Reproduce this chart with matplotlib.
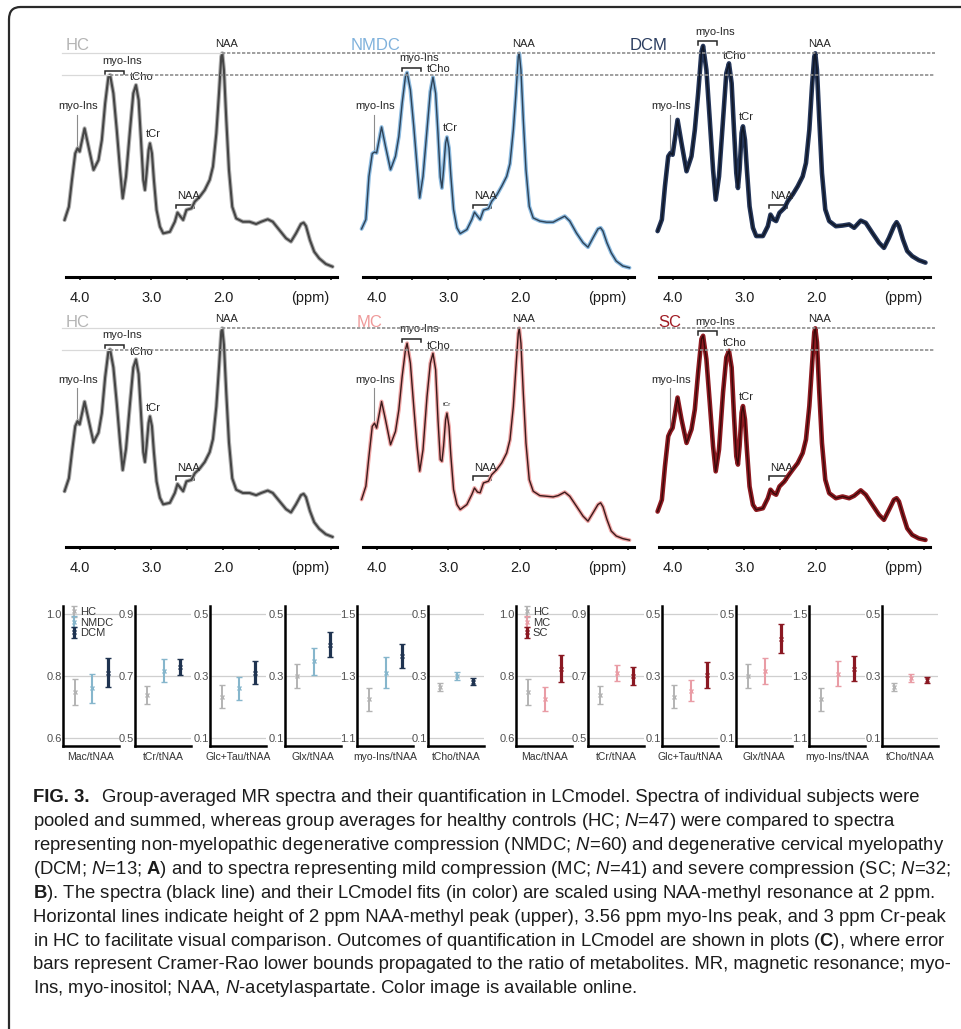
#!/usr/bin/env python3
"""
Group-averaged MR spectra (HC / NMDC / DCM and HC / MC / SC), LCmodel
metabolite ratios with CRLB error bars, and the figure caption.
"""

import numpy as np
import matplotlib
matplotlib.use("Agg")
import matplotlib.pyplot as plt
from matplotlib.lines import Line2D
from matplotlib.patches import FancyBboxPatch

W, H, DPI = 961, 1029, 100

plt.rcParams["font.family"] = ["Liberation Sans", "DejaVu Sans"]
plt.rcParams["mathtext.fontset"] = "custom"
plt.rcParams["mathtext.rm"] = "Liberation Sans"
plt.rcParams["mathtext.it"] = "Liberation Sans:italic"
plt.rcParams["mathtext.bf"] = "Liberation Sans:bold"

# ── spectra, intensity scaled to the 2 ppm NAA-methyl peak ──────────────────
PPM = [4.21, 4.15, 4.107, 4.061, 4.029, 4.0, 3.931, 3.876, 3.806, 3.737,
       3.69, 3.644, 3.598, 3.575, 3.529, 3.482, 3.436, 3.399, 3.353, 3.297,
       3.251, 3.214, 3.177, 3.144, 3.112, 3.089, 3.066, 3.038, 3.019, 2.991,
       2.964, 2.927, 2.88, 2.834, 2.741, 2.672, 2.635, 2.593, 2.556, 2.51,
       2.44, 2.394, 2.325, 2.255, 2.186, 2.14, 2.093, 2.056, 2.024, 2.01,
       1.987, 1.954, 1.917, 1.871, 1.816, 1.723, 1.63, 1.538, 1.468, 1.376,
       1.306, 1.214, 1.121, 1.052, 0.982, 0.913, 0.876, 0.843, 0.788, 0.728,
       0.658, 0.566, 0.473]

HC = [0.254, 0.313, 0.433, 0.552, 0.575, 0.560, 0.664, 0.582, 0.478, 0.522,
      0.612, 0.776, 0.896, 0.903, 0.821, 0.657, 0.478, 0.351, 0.448, 0.657,
      0.821, 0.858, 0.791, 0.612, 0.433, 0.388, 0.463, 0.567, 0.597, 0.552,
      0.433, 0.299, 0.224, 0.194, 0.201, 0.246, 0.287, 0.269, 0.254, 0.299,
      0.306, 0.336, 0.358, 0.388, 0.433, 0.493, 0.642, 0.821, 0.985, 1.0,
      0.925, 0.701, 0.478, 0.313, 0.261, 0.246, 0.246, 0.236, 0.246, 0.257,
      0.246, 0.209, 0.172, 0.157, 0.194, 0.236, 0.242, 0.227, 0.164, 0.112,
      0.082, 0.057, 0.045]

NMDC = [0.214, 0.256, 0.449, 0.551, 0.558, 0.554, 0.670, 0.583, 0.479, 0.539,
        0.628, 0.777, 0.896, 0.914, 0.836, 0.673, 0.494, 0.353, 0.449, 0.658,
        0.829, 0.893, 0.821, 0.643, 0.446, 0.397, 0.479, 0.598, 0.625, 0.576,
        0.449, 0.301, 0.219, 0.193, 0.211, 0.256, 0.289, 0.271, 0.256, 0.298,
        0.305, 0.338, 0.365, 0.405, 0.449, 0.506, 0.658, 0.821, 0.985, 1.0,
        0.926, 0.702, 0.479, 0.315, 0.263, 0.249, 0.244, 0.244, 0.256, 0.271,
        0.249, 0.196, 0.152, 0.132, 0.174, 0.214, 0.219, 0.204, 0.152, 0.107,
        0.070, 0.048, 0.040]

DCM = [0.204, 0.256, 0.405, 0.539, 0.554, 0.546, 0.702, 0.598, 0.472, 0.539,
       0.658, 0.821, 1.007, 1.033, 0.926, 0.702, 0.479, 0.345, 0.449, 0.702,
       0.911, 0.955, 0.866, 0.658, 0.464, 0.397, 0.479, 0.643, 0.673, 0.613,
       0.479, 0.315, 0.219, 0.182, 0.182, 0.226, 0.278, 0.256, 0.249, 0.286,
       0.308, 0.338, 0.368, 0.405, 0.449, 0.509, 0.658, 0.851, 0.985, 1.0,
       0.926, 0.702, 0.464, 0.301, 0.249, 0.226, 0.229, 0.234, 0.219, 0.251,
       0.241, 0.196, 0.152, 0.129, 0.174, 0.226, 0.244, 0.226, 0.167, 0.115,
       0.092, 0.074, 0.063]

MC = [0.216, 0.277, 0.414, 0.551, 0.566, 0.543, 0.665, 0.581, 0.467, 0.528,
      0.627, 0.779, 0.901, 0.932, 0.840, 0.642, 0.460, 0.346, 0.444, 0.688,
      0.840, 0.886, 0.810, 0.581, 0.399, 0.391, 0.460, 0.581, 0.612, 0.551,
      0.414, 0.262, 0.193, 0.170, 0.193, 0.239, 0.269, 0.250, 0.247, 0.292,
      0.300, 0.330, 0.353, 0.384, 0.429, 0.490, 0.642, 0.825, 0.977, 1.0,
      0.932, 0.703, 0.475, 0.307, 0.254, 0.234, 0.231, 0.228, 0.234, 0.250,
      0.231, 0.186, 0.140, 0.117, 0.155, 0.193, 0.201, 0.183, 0.125, 0.072,
      0.049, 0.037, 0.030]

SC = [0.161, 0.215, 0.368, 0.506, 0.529, 0.544, 0.683, 0.583, 0.475, 0.537,
      0.629, 0.798, 0.951, 0.966, 0.859, 0.660, 0.460, 0.345, 0.445, 0.706,
      0.867, 0.897, 0.821, 0.601, 0.414, 0.376, 0.460, 0.613, 0.644, 0.583,
      0.445, 0.276, 0.192, 0.169, 0.176, 0.222, 0.261, 0.245, 0.238, 0.276,
      0.299, 0.322, 0.353, 0.383, 0.429, 0.491, 0.644, 0.828, 0.982, 1.0,
      0.936, 0.706, 0.475, 0.307, 0.245, 0.222, 0.230, 0.222, 0.233, 0.258,
      0.238, 0.192, 0.146, 0.123, 0.169, 0.215, 0.222, 0.207, 0.146, 0.084,
      0.054, 0.038, 0.031]

# ── LCmodel ratios to tNAA, with propagated CRLB ────────────────────────────
METRICS = ["Mac/tNAA", "tCr/tNAA", "Glc+Tau/tNAA", "Glx/tNAA",
           "myo-Ins/tNAA", "tCho/tNAA"]
METRIC_TICKS = [(0.6, 0.8, 1.0), (0.5, 0.7, 0.9), (0.1, 0.3, 0.5),
                (0.1, 0.3, 0.5), (1.1, 1.3, 1.5), (0.1, 0.3, 0.5)]

HC_RATIO   = [0.749, 0.638, 0.233, 0.300, 1.226, 0.265]
HC_CRLB    = [0.041, 0.029, 0.037, 0.040, 0.037, 0.014]
NMDC_RATIO = [0.760, 0.717, 0.260, 0.347, 1.311, 0.300]
NMDC_CRLB  = [0.046, 0.037, 0.037, 0.043, 0.050, 0.014]
DCM_RATIO  = [0.811, 0.729, 0.311, 0.400, 1.365, 0.281]
DCM_CRLB   = [0.046, 0.026, 0.038, 0.040, 0.039, 0.011]
MC_RATIO   = [0.727, 0.710, 0.253, 0.316, 1.308, 0.294]
MC_CRLB    = [0.039, 0.026, 0.034, 0.043, 0.040, 0.012]
SC_RATIO   = [0.823, 0.700, 0.302, 0.420, 1.323, 0.288]
SC_CRLB    = [0.043, 0.028, 0.042, 0.047, 0.040, 0.010]

CAPTION = [
    r"Group-averaged MR spectra and their quantification in LCmodel. Spectra of individual subjects were",
    r"pooled and summed, whereas group averages for healthy controls (HC; $\mathit{N}$=47) were compared to spectra",
    r"representing non-myelopathic degenerative compression (NMDC; $\mathit{N}$=60) and degenerative cervical myelopathy",
    r"(DCM; $\mathit{N}$=13; $\mathbf{A}$) and to spectra representing mild compression (MC; $\mathit{N}$=41) and severe compression (SC; $\mathit{N}$=32;",
    r"$\mathbf{B}$). The spectra (black line) and their LCmodel fits (in color) are scaled using NAA-methyl resonance at 2 ppm.",
    r"Horizontal lines indicate height of 2 ppm NAA-methyl peak (upper), 3.56 ppm myo-Ins peak, and 3 ppm Cr-peak",
    r"in HC to facilitate visual comparison. Outcomes of quantification in LCmodel are shown in plots ($\mathbf{C}$), where error",
    r"bars represent Cramer-Rao lower bounds propagated to the ratio of metabolites. MR, magnetic resonance; myo-",
    r"Ins, myo-inositol; NAA, $\mathit{N}$-acetylaspartate. Color image is available online.",
]

# group -> (name colour, fit colour, fit lw, spectrum colour, spectrum lw)
STYLE = {
    "HC":   ("#b4b4b4", "#b0b0b0", 3.0, "#454545", 1.5),
    "NMDC": ("#80b2dc", "#8dbbe0", 2.8, "#2d4257", 1.0),
    "DCM":  ("#2b3d60", "#26375a", 3.3, "#101828", 1.2),
    "MC":   ("#ef9a9a", "#f0a8a8", 2.8, "#3b1a1a", 1.0),
    "SC":   ("#a01c24", "#8e1b22", 3.3, "#3a0808", 1.0),
}
BAR_COLOR = {"HC": "#b3b3b3", "NMDC": "#86b6cc", "DCM": "#1f3350",
             "MC": "#e99ca5", "SC": "#8a1822"}

ANN = "#262626"
PPM_A = np.array(PPM)


def fig_rect(left, top, width, height):
    return [left / W, 1 - (top + height) / H, width / W, height / H]


def peak(y, lo, hi):
    y = np.asarray(y)
    m = (PPM_A >= lo) & (PPM_A <= hi)
    i = np.argmax(np.where(m, y, -np.inf))
    return PPM_A[i], y[i]


def bracket(ax, x0, x1, yb, drop=0.015):
    ax.plot([x0, x0, x1, x1], [yb - drop, yb, yb, yb - drop], color=ANN,
            lw=1.1, clip_on=False, solid_joinstyle="miter")


def draw_spectrum(ax, group, y, tcr_size=8):
    _, fitc, fitw, specc, specw = STYLE[group]
    ax.plot(PPM, y, color=fitc, lw=fitw, clip_on=False,
            solid_capstyle="round", solid_joinstyle="round", zorder=3)
    ax.plot(PPM, y, color=specc, lw=specw, clip_on=False,
            solid_joinstyle="round", zorder=4)

    kw = dict(fontsize=8, color=ANN, zorder=5)
    p, v = peak(y, 1.95, 2.1)
    ax.text(p - 0.06, v + 0.02, "NAA", ha="center", va="bottom", **kw)

    p, v = peak(y, 3.5, 3.65)
    b = v + 0.02
    bracket(ax, 3.64, 3.38, b)
    ax.text(3.41, b + 0.022, "myo-Ins", ha="center", va="bottom", **kw)

    p, v = peak(y, 3.1, 3.3)
    ax.text(3.30, v + 0.035, "tCho", ha="left", va="center", **kw)

    p, v = peak(y, 2.95, 3.1)
    ax.text(3.08, v + 0.04, "tCr", ha="left", va="center",
            fontsize=tcr_size, color=ANN, zorder=5)

    p, v = peak(y, 4.02, 4.04)
    ax.plot([4.04, 4.04], [v + 0.005, 0.725], color="#8c8c8c", lw=0.8,
            clip_on=False)
    ax.text(4.02, 0.765, "myo-Ins", ha="center", va="center", **kw)

    bracket(ax, 2.655, 2.40, 0.322)
    ax.text(2.48, 0.362, "NAA", ha="center", va="center", **kw)


def setup_ppm_axis(ax, ytop):
    ax.set_xlim(4.19, 0.41)
    ax.set_ylim(0, ytop)
    for s in ("left", "right", "top"):
        ax.spines[s].set_visible(False)
    ax.spines["bottom"].set_linewidth(2.2)
    ax.set_yticks([])
    ticks = np.arange(0.5, 4.01, 0.5)
    ax.set_xticks(ticks)
    ax.set_xticklabels([f"{t:.1f}" if t in (2.0, 3.0, 4.0) else "" for t in ticks])
    ax.tick_params(axis="x", direction="out", length=2.5, width=1.1, pad=7.5,
                   labelsize=10.5, labelcolor="#1e1e1e")
    ax.annotate("(ppm)", xy=(0.78, 0), xycoords=("data", "axes fraction"),
                xytext=(0, -10), textcoords="offset points", ha="center",
                va="top", fontsize=10.5, color="#1e1e1e")
    ax.patch.set_alpha(0)


fig = plt.figure(figsize=(W / DPI, H / DPI), dpi=DPI)

# rounded frame round the whole figure
fig.add_artist(FancyBboxPatch((9 / W, 1 - 1050 / H), 980 / W, 1043 / H,
                              boxstyle="round,pad=0,rounding_size=0.012",
                              transform=fig.transFigure, fc="none",
                              ec="#2a2a2a", lw=1.6))

# ── spectra rows ────────────────────────────────────────────────────────────
ROWS = [
    dict(groups=["HC", "NMDC", "DCM"], data=[HC, NMDC, DCM], top=35,
         bottom=276.7, ytop=1.082, name_x=[66, 351, 630], name_y=50.5,
         tcr=[8, 8, 8]),
    dict(groups=["HC", "MC", "SC"], data=[HC, MC, SC], top=310,
         bottom=546.7, ytop=1.084, name_x=[66, 357, 658], name_y=327,
         tcr=[8, 4.5, 8]),
]
COL_LEFT = [66, 363, 659]

for row in ROWS:
    axes = []
    for k, (g, y) in enumerate(zip(row["groups"], row["data"])):
        ax = fig.add_axes(fig_rect(COL_LEFT[k], row["top"], 271,
                                   row["bottom"] - row["top"]))
        setup_ppm_axis(ax, row["ytop"])
        draw_spectrum(ax, g, y, tcr_size=row["tcr"][k])
        fig.text(row["name_x"][k] / W, 1 - row["name_y"] / H, g,
                 fontsize=12, color=STYLE[g][0], ha="left", va="baseline")
        axes.append(ax)

    # reference heights from the HC spectrum, carried across the row
    hc_ax = axes[0]
    for lo, hi in ((1.95, 2.1), (3.5, 3.65)):
        p, v = peak(HC, lo, hi)
        xd, yd = hc_ax.transData.transform((p, v))
        yf = yd / H
        fig.add_artist(Line2D([62 / W, xd / W], [yf, yf], color="#d9d9d9",
                              lw=0.9, zorder=1))
        fig.add_artist(Line2D([xd / W, 935 / W], [yf, yf], color="#8f8f8f",
                              lw=1.2, ls=(0, (2, 1)), zorder=6))

# ── metabolite ratio panels ────────────────────────────────────────────────
C_GROUPS = [
    dict(names=["HC", "NMDC", "DCM"],
         vals=[HC_RATIO, NMDC_RATIO, DCM_RATIO],
         errs=[HC_CRLB, NMDC_CRLB, DCM_CRLB],
         lefts=[63, 135, 210, 285, 357, 428]),
    dict(names=["HC", "MC", "SC"],
         vals=[HC_RATIO, MC_RATIO, SC_RATIO],
         errs=[HC_CRLB, MC_CRLB, SC_CRLB],
         lefts=[516, 588, 662, 736, 809, 882]),
]
BAR_LW = [1.4, 1.5, 2.3]

for grp in C_GROUPS:
    for m, (metric, ticks) in enumerate(zip(METRICS, METRIC_TICKS)):
        ax = fig.add_axes(fig_rect(grp["lefts"][m], 606, 56, 140))
        ax.set_xlim(0.28, 3.63)
        ax.set_ylim(ticks[0] - 0.025, ticks[-1] + 0.025)
        ax.set_yticks(ticks)
        ax.set_yticklabels([f"{t:.1f}" for t in ticks])
        ax.set_xticks([])
        ax.yaxis.grid(True, color="#cfcfcf", lw=0.9)
        ax.set_axisbelow(True)
        for s in ("right", "top"):
            ax.spines[s].set_visible(False)
        for s in ("left", "bottom"):
            ax.spines[s].set_linewidth(1.8)
        ax.tick_params(axis="y", length=0, pad=1, labelsize=8,
                       labelcolor="#505050")
        ax.set_xlabel(metric, fontsize=7.5, color="#333333", labelpad=4)
        ax.patch.set_alpha(0)

        handles = []
        for j, name in enumerate(grp["names"]):
            c = BAR_COLOR[name]
            h = ax.errorbar(j + 1, grp["vals"][j][m], yerr=grp["errs"][j][m],
                            fmt="x", ms=3, mew=1.0, color=c, ecolor=c,
                            elinewidth=BAR_LW[j], capsize=2.5,
                            capthick=BAR_LW[j])
            handles.append(h)
        if m == 0:
            leg = ax.legend(handles, grp["names"], loc="upper left",
                            bbox_to_anchor=(0.12, 1.0), frameon=False,
                            fontsize=8, handlelength=0.5, handletextpad=0.3,
                            labelspacing=0.05, borderpad=0.1,
                            borderaxespad=0)
            for t in leg.get_texts():
                t.set_color("#333333")

# ── caption ────────────────────────────────────────────────────────────────
CAP_BASE = [802, 826, 850, 874, 898, 922, 946, 969, 993]
renderer = fig.canvas.get_renderer()
probe = fig.text(33 / W, 0.5, CAPTION[2], fontsize=12)
fs = 12 * 910 / probe.get_window_extent(renderer).width
probe.remove()

head = fig.text(33 / W, 1 - CAP_BASE[0] / H, "FIG. 3.", fontsize=fs,
                fontweight="bold", color="#1c1c1c", va="baseline")
head_end = head.get_window_extent(renderer).x1
for i, line in enumerate(CAPTION):
    x = (head_end + 12) / W if i == 0 else 33 / W
    fig.text(x, 1 - CAP_BASE[i] / H, line, fontsize=fs, color="#1c1c1c",
             va="baseline", ha="left")

fig.savefig("out.png", dpi=DPI)
